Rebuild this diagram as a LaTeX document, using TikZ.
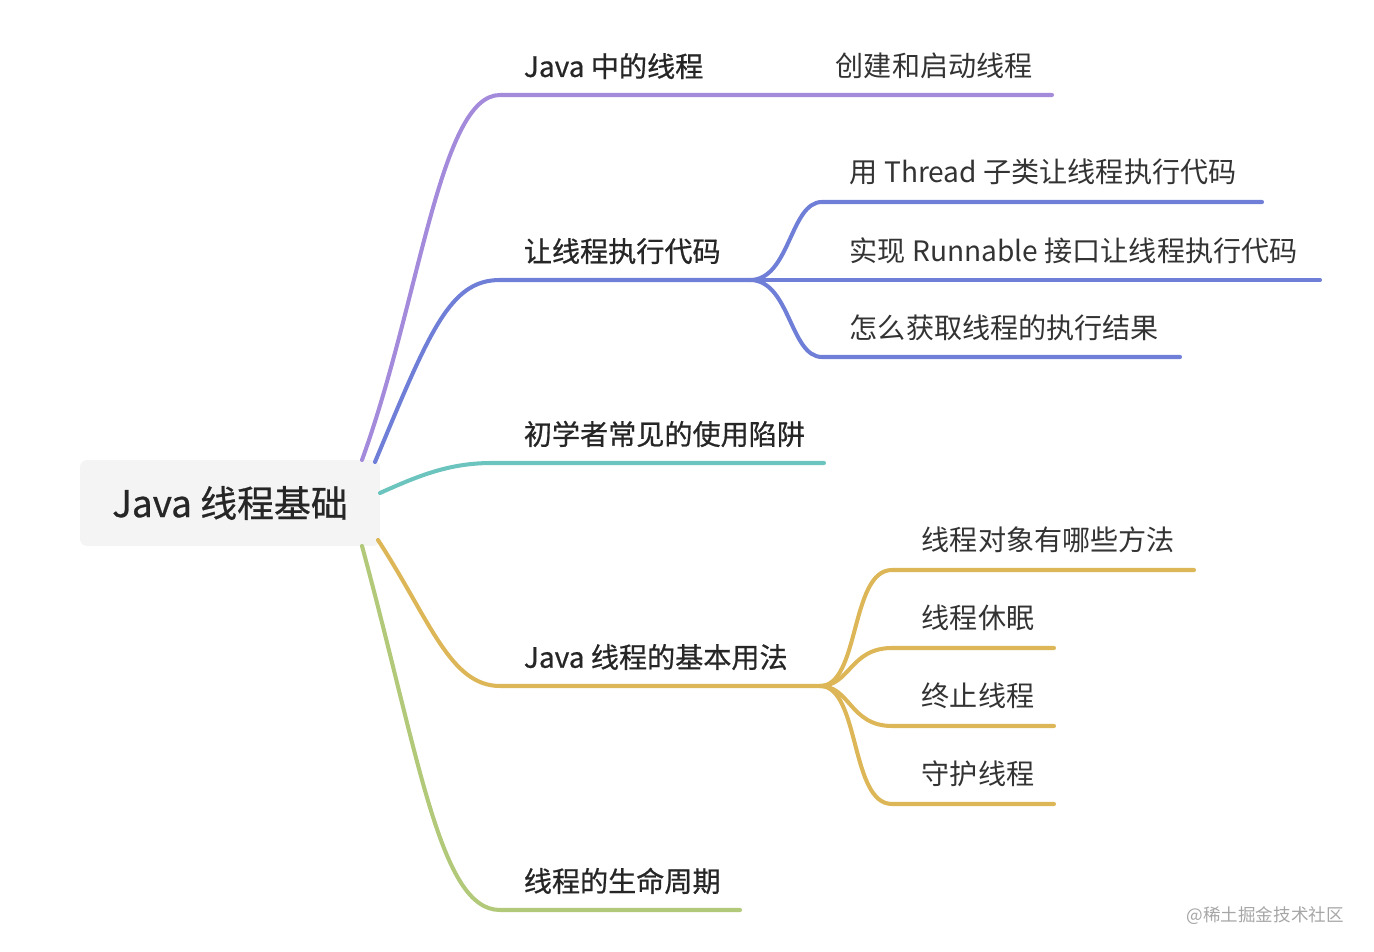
\documentclass[tikz,border=0pt]{standalone}
\usepackage{fontspec}
\setmainfont{Noto Sans CJK SC}
\newfontfamily\medfont{Noto Sans CJK SC}[FakeBold=0.7]
\usetikzlibrary{positioning}
\definecolor{cpurple}{HTML}{A48ADB}
\definecolor{cblue}{HTML}{6F7ED6}
\definecolor{cteal}{HTML}{6CC4BF}
\definecolor{cyellow}{HTML}{DDB757}
\definecolor{cgreen}{HTML}{B2C97A}
\definecolor{cgray}{HTML}{F4F4F4}
\begin{document}
\begin{tikzpicture}[x=0.02cm,y=-0.02cm,
    root/.style={rectangle, rounded corners=4pt, fill=cgray, minimum width=6cm, minimum height=1.72cm, font=\fontsize{21}{24}\selectfont\medfont, text=black!85},
    topic/.style={anchor=south west, inner sep=2pt, font=\fontsize{16}{19}\selectfont\medfont, text=black!85},
    leaf/.style={anchor=south west, inner sep=2pt, font=\fontsize{16}{19}\selectfont, text=black!80},
    branch/.style={line width=2.3pt, line cap=round}
]
    \useasboundingbox (0,0) rectangle (1374,952);
    % Root
    \node[root] (root) at (230,503) {Java 线程基础};
    \coordinate (r1) at (362,460);
    \coordinate (r2) at (375,462);
    \coordinate (r3) at (380,493);
    \coordinate (r4) at (378,540);
    \coordinate (r5) at (362,546);

    % Topics
    \coordinate (t1) at (500,95);   \coordinate (t1e) at (1052,95);
    \coordinate (t2) at (500,280);  \coordinate (t2e) at (750,280);
    \coordinate (t3) at (492,463);  \coordinate (t3e) at (824,463);
    \coordinate (t4) at (500,686);  \coordinate (t4e) at (820,686);
    \coordinate (t5) at (500,910);  \coordinate (t5e) at (740,910);
    \node[topic] (l1) at (520,83) {Java 中的线程};
    \node[leaf] (l1a) at (832,83) {创建和启动线程};
    \node[topic] (l2) at (520,268) {让线程执行代码};
    \node[topic] (l3) at (520,451) {初学者常见的使用陷阱};
    \node[topic] (l4) at (520,674) {Java 线程的基本用法};
    \node[topic] (l5) at (520,898) {线程的生命周期};

    \draw[branch, cpurple] (r1) .. controls (420,300) and (440,95) .. (t1) -- (t1e);
    \draw[branch, cblue] (r2) .. controls (430,330) and (450,280) .. (t2) -- (t2e);
    \draw[branch, cteal] (r3) .. controls (420,475) and (450,463) .. (t3) -- (t3e);
    \draw[branch, cyellow] (r4) .. controls (430,620) and (450,686) .. (t4) -- (t4e);
    \draw[branch, cgreen] (r5) .. controls (420,760) and (440,910) .. (t5) -- (t5e);

    % Children of 让线程执行代码
    \coordinate (b1) at (822,202);  \coordinate (b1e) at (1262,202);
    \coordinate (b2e) at (1320,280);
    \coordinate (b3) at (822,357);  \coordinate (b3e) at (1180,357);
    \draw[branch, cblue] (t2e) .. controls (790,280) and (790,202) .. (b1) -- (b1e);
    \draw[branch, cblue] (t2e) -- (b2e);
    \draw[branch, cblue] (t2e) .. controls (790,280) and (790,357) .. (b3) -- (b3e);
    \node[leaf] (m1) at (846,189) {用 Thread 子类让线程执行代码};
    \node[leaf] (m2) at (846,268) {实现 Runnable 接口让线程执行代码};
    \node[leaf] (m3) at (846,345) {怎么获取线程的执行结果};

    % Children of Java 线程的基本用法
    \coordinate (y1) at (892,570);  \coordinate (y1e) at (1194,570);
    \coordinate (y2) at (892,648);  \coordinate (y2e) at (1054,648);
    \coordinate (y3) at (892,726);  \coordinate (y3e) at (1054,726);
    \coordinate (y4) at (892,804);  \coordinate (y4e) at (1054,804);
    \draw[branch, cyellow] (t4e) .. controls (860,686) and (850,570) .. (y1) -- (y1e);
    \draw[branch, cyellow] (t4e) .. controls (850,686) and (850,648) .. (y2) -- (y2e);
    \draw[branch, cyellow] (t4e) .. controls (850,686) and (850,726) .. (y3) -- (y3e);
    \draw[branch, cyellow] (t4e) .. controls (860,686) and (850,804) .. (y4) -- (y4e);
    \node[leaf] (n1) at (918,557) {线程对象有哪些方法};
    \node[leaf] (n2) at (918,635) {线程休眠};
    \node[leaf] (n3) at (918,713) {终止线程};
    \node[leaf] (n4) at (918,791) {守护线程};

    % Watermark
    \node[anchor=east, font=\fontsize{10}{12}\selectfont, text=black!35] (mark) at (1350,916) {@稀土掘金技术社区};
\end{tikzpicture}
\end{document}
